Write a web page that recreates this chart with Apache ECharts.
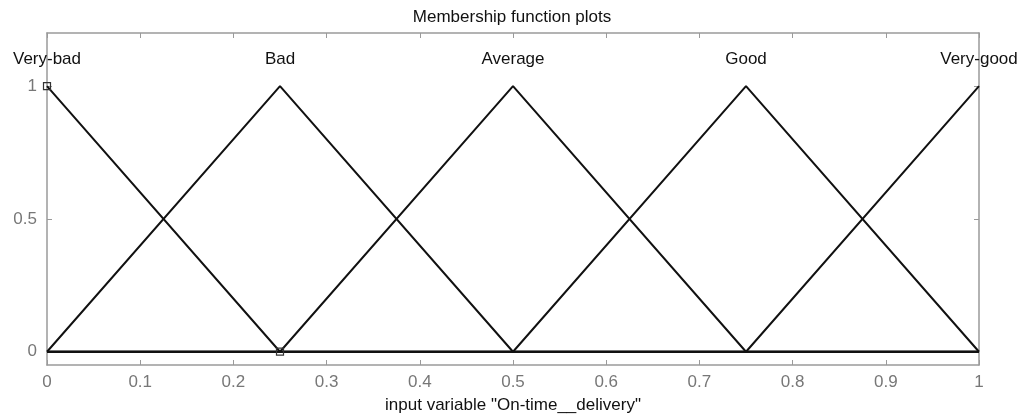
<!DOCTYPE html>
<html>
<head>
<meta charset="utf-8">
<style>
  html, body { margin: 0; padding: 0; background: #fff; }
  #chart { width: 1024px; height: 417px; }
</style>
<script src="https://cdn.jsdelivr.net/npm/echarts@6/dist/echarts.min.js"></script>
</head>
<body>
<div id="chart"></div>
<script>
// Membership functions of the input "On-time__delivery" (vertices [x, mu])
const mfNames = ['Very-bad', 'Bad', 'Average', 'Good', 'Very-good'];
const mfPeaks = [0, 0.25, 0.5, 0.75, 1];
const veryBad = [[0, 1], [0.25, 0], [1, 0]];
const bad = [[0, 0], [0.25, 1], [0.5, 0], [1, 0]];
const average = [[0, 0], [0.25, 0], [0.5, 1], [0.75, 0], [1, 0]];
const good = [[0, 0], [0.5, 0], [0.75, 1], [1, 0]];
const veryGood = [[0, 0], [0.75, 0], [1, 1]];
const mfCurves = [veryBad, bad, average, good, veryGood];
const labelLevel = 1.1;
const markerPoints = [[0, 1], [0.25, 0]];
const xTicks = [0, 0.1, 0.2, 0.3, 0.4, 0.5, 0.6, 0.7, 0.8, 0.9, 1];
const yTicks = [0, 0.5, 1];

const font = 'Liberation Sans, Arial, sans-serif';
const tickColor = '#777';
const frameColor = '#9a9a9a';

const chart = echarts.init(document.getElementById('chart'));

const curveSeries = mfCurves.map((pts, i) => ({
  name: mfNames[i],
  type: 'line',
  data: pts,
  symbol: 'none',
  lineStyle: { color: '#111', width: 2 },
  z: 3,
  animation: false
}));

const baseX = {
  type: 'value', min: 0, max: 1, interval: 0.1,
  axisLine: { show: true, onZero: false, lineStyle: { color: frameColor, width: 1.5 } },
  axisTick: { show: true, inside: true, length: 5, lineStyle: { color: frameColor } },
  splitLine: { show: false }
};
const baseY = {
  type: 'value', min: -0.05, max: 1.2, interval: 0.05,
  axisLine: { show: true, onZero: false, lineStyle: { color: frameColor, width: 1.5 } },
  axisTick: { show: true, inside: true, length: 5, customValues: yTicks, lineStyle: { color: frameColor } },
  splitLine: { show: false }
};

chart.setOption({
  animation: false,
  title: {
    text: 'Membership function plots',
    left: 'center', top: 4,
    textStyle: { fontFamily: font, fontSize: 17, fontWeight: 'normal', color: '#111' }
  },
  grid: { left: 47, right: 45, top: 33, bottom: 52, containLabel: false, outerBoundsMode: 'none' },
  xAxis: [
    Object.assign({}, baseX, {
      position: 'bottom',
      name: 'input variable "On-time__delivery"',
      nameLocation: 'middle', nameGap: 32,
      nameTextStyle: { fontFamily: font, fontSize: 17, color: '#111' },
      axisLabel: {
        show: true, margin: 9, fontFamily: font, fontSize: 17, color: tickColor,
        formatter: v => String(+v.toFixed(1))
      }
    }),
    Object.assign({}, baseX, { position: 'top', axisLabel: { show: false } })
  ],
  yAxis: [
    Object.assign({}, baseY, {
      position: 'left',
      axisLabel: {
        show: true, margin: 10, customValues: yTicks,
        fontFamily: font, fontSize: 17, color: tickColor,
        formatter: v => String(+v.toFixed(1))
      }
    }),
    Object.assign({}, baseY, { position: 'right', axisLabel: { show: false } })
  ],
  series: curveSeries.concat([
    {
      name: 'labels',
      type: 'scatter',
      data: mfPeaks.map((x, i) => ({ value: [x, labelLevel], name: mfNames[i] })),
      symbol: 'circle', symbolSize: 1,
      itemStyle: { color: 'rgba(255,255,255,0)', opacity: 1 },
      label: {
        show: true, position: 'inside', formatter: p => p.name,
        fontFamily: font, fontSize: 17, color: '#111',
        textBorderWidth: 0, textBorderColor: 'transparent'
      },
      z: 4
    },
    {
      name: 'markers',
      type: 'scatter',
      data: markerPoints,
      symbol: 'rect', symbolSize: 7,
      itemStyle: { color: 'rgba(255,255,255,0)', borderColor: '#333', borderWidth: 1.2, opacity: 1 },
      z: 5
    }
  ])
});
</script>
</body>
</html>
